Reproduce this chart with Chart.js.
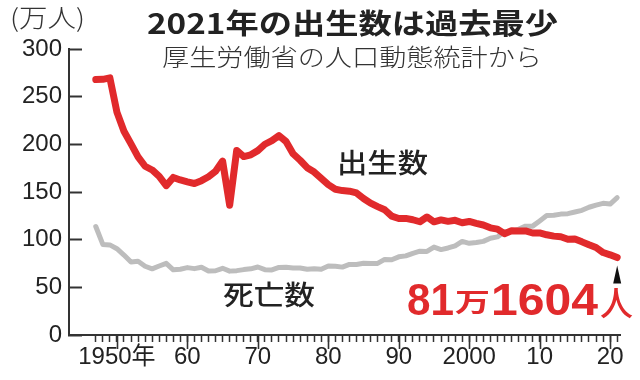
<!DOCTYPE html>
<html lang="ja">
<head>
<meta charset="utf-8">
<title>2021年の出生数は過去最少</title>
<script src="https://cdn.jsdelivr.net/npm/chart.js@4/dist/chart.umd.min.js"></script>
<style>
  html, body { margin: 0; padding: 0; background: #fff; }
  #chart { display: block; }
</style>
</head>
<body>
<canvas id="chart" width="640" height="380"></canvas>
<script>
// Years 1947-2021
const years = [
  1947, 1948, 1949, 1950, 1951, 1952, 1953, 1954, 1955, 1956,
  1957, 1958, 1959, 1960, 1961, 1962, 1963, 1964, 1965, 1966,
  1967, 1968, 1969, 1970, 1971, 1972, 1973, 1974, 1975, 1976,
  1977, 1978, 1979, 1980, 1981, 1982, 1983, 1984, 1985, 1986,
  1987, 1988, 1989, 1990, 1991, 1992, 1993, 1994, 1995, 1996,
  1997, 1998, 1999, 2000, 2001, 2002, 2003, 2004, 2005, 2006,
  2007, 2008, 2009, 2010, 2011, 2012, 2013, 2014, 2015, 2016,
  2017, 2018, 2019, 2020, 2021
];

// 出生数 (万人)
const births = [
  267.9, 268.2, 269.7, 233.8, 213.8, 200.5, 186.8, 177.0, 173.1, 166.5,
  156.7, 165.3, 162.6, 160.6, 158.9, 161.9, 166.0, 171.7, 182.4, 136.1,
  193.6, 187.2, 189.0, 193.4, 200.1, 203.9, 209.2, 203.0, 190.1, 183.3,
  175.5, 170.9, 164.3, 157.7, 152.9, 151.5, 150.9, 149.0, 143.2, 138.3,
  134.7, 131.4, 124.7, 122.2, 122.3, 120.9, 118.8, 123.8, 118.7, 120.7,
  119.2, 120.3, 117.8, 119.1, 117.1, 115.4, 112.4, 111.1, 106.3, 109.3,
  109.0, 109.1, 107.0, 107.1, 105.1, 103.7, 103.0, 100.4, 100.6, 97.7,
  94.6, 91.8, 86.5, 84.1, 81.2
];

// 死亡数 (万人)
const deaths = [
  113.8, 95.0, 94.5, 90.5, 83.9, 76.5, 77.3, 72.1, 69.4, 72.4,
  75.2, 68.4, 69.0, 70.7, 69.6, 71.0, 67.1, 67.4, 70.0, 67.0,
  67.5, 68.6, 69.4, 71.3, 68.5, 68.3, 70.9, 71.0, 70.2, 70.3,
  69.0, 69.6, 69.0, 72.3, 72.0, 71.2, 74.0, 74.0, 75.2, 75.1,
  75.1, 79.3, 78.9, 82.0, 83.0, 85.7, 87.9, 87.6, 92.2, 89.6,
  91.3, 93.6, 98.2, 96.2, 97.0, 98.2, 101.5, 102.9, 108.4, 108.4,
  110.8, 114.2, 114.2, 119.7, 125.3, 125.6, 126.8, 127.3, 129.0, 130.8,
  134.0, 136.2, 138.1, 137.3, 144.0
];

// Axis ticks
const yTicks = [0, 50, 100, 150, 200, 250, 300];
const labelYears = [1950, 1960, 1970, 1980, 1990, 2000, 2010, 2020];
const xTickLabels = ['1950年', '60', '70', '80', '90', '2000', '10', '20'];

const RED = '#e12a2c';
const GRAY = '#bdbdbd';
const INK = '#222';
const JP = '"Noto Sans CJK JP"';
const NUM = '"Liberation Sans", "Noto Sans CJK JP"';

// Draw text squeezed / stretched to a given width
const drawFit = (ctx, text, left, y, font, color, width, baseline) => {
    ctx.save();
    ctx.font = font;
    ctx.fillStyle = color;
    ctx.textAlign = 'left';
    ctx.textBaseline = baseline || 'middle';
    const w = ctx.measureText(text).width;
    ctx.translate(left, y);
    ctx.scale(width / w, 1);
    ctx.fillText(text, 0, 0);
    ctx.restore();
};

const decorations = {
    id: 'decorations',
    beforeDraw(chart) {
        const ctx = chart.ctx;
        ctx.save();
        ctx.fillStyle = '#fff';
        ctx.fillRect(0, 0, chart.width, chart.height);
        ctx.restore();
    },
    afterDraw(chart) {
        const ctx = chart.ctx;
        const xs = chart.scales.x;
        const ys = chart.scales.y;

        // longer ticks on decades
        ctx.save();
        ctx.strokeStyle = '#333';
        ctx.lineWidth = 1.6;
        labelYears.forEach(yr => {
            const px = Math.round(xs.getPixelForValue(yr)) + 0.5;
            ctx.beginPath();
            ctx.moveTo(px, xs.top);
            ctx.lineTo(px, xs.top + 14);
            ctx.stroke();
        });
        ctx.restore();

        // title, subtitle, unit
        const title = '2021年の出生数は過去最少';
        const sub = '厚生労働省の人口動態統計から';
        drawFit(ctx, title, 147, 23, `bold 28px ${JP}`, INK, 411);
        drawFit(ctx, sub, 162, 57, `300 24px ${JP}`, '#333', 380);
        drawFit(ctx, '(万人)', 10, 17, `300 25px ${JP}`, '#333', 75);

        // series labels
        drawFit(ctx, '出生数', 337, 163, `500 27px ${JP}`, INK, 91);
        drawFit(ctx, '死亡数', 223, 295, `500 27px ${JP}`, INK, 92);

        // latest value annotation
        const lastIdx = years.length - 1;
        const lx = xs.getPixelForValue(years[lastIdx]);
        const ly = ys.getPixelForValue(births[lastIdx]);
        ctx.save();
        ctx.fillStyle = '#111';
        ctx.beginPath();
        ctx.moveTo(lx, ly + 8);
        ctx.lineTo(lx + 4, ly + 26);
        ctx.lineTo(lx - 4, ly + 26);
        ctx.closePath();
        ctx.fill();
        ctx.restore();

        drawFit(ctx, '81', 407, 315, `bold 44px ${NUM}`, RED, 47, 'alphabetic');
        drawFit(ctx, '万', 455, 302, `bold 26px ${JP}`, RED, 35);
        drawFit(ctx, '1604', 491, 315, `bold 44px ${NUM}`, RED, 107, 'alphabetic');
        drawFit(ctx, '人', 600, 303, `500 34px ${JP}`, RED, 33);
    }
};

const toPoints = (vals) => years.map((yr, i) => ({ x: yr, y: vals[i] }));

new Chart(document.getElementById('chart'), {
    type: 'line',
    data: {
        datasets: [
            {
                label: '出生数',
                data: toPoints(births),
                borderColor: RED,
                borderWidth: 7,
                borderJoinStyle: 'round',
                borderCapStyle: 'round',
                pointRadius: 0,
                tension: 0,
                clip: false
            },
            {
                label: '死亡数',
                data: toPoints(deaths),
                borderColor: GRAY,
                borderWidth: 5,
                borderJoinStyle: 'round',
                borderCapStyle: 'round',
                pointRadius: 0,
                tension: 0,
                clip: false
            }
        ]
    },
    options: {
        responsive: false,
        animation: false,
        layout: { padding: { top: 49, right: 20, bottom: 0, left: 0 } },
        plugins: {
            legend: { display: false },
            tooltip: { enabled: false },
            title: { display: false }
        },
        scales: {
            x: {
                type: 'linear',
                min: 1943.2,
                max: 2021.4,
                afterBuildTicks: (scale) => {
                    scale.ticks = years.map(v => ({ value: v }));
                },
                afterFit: (scale) => { scale.height = 45; },
                border: { display: true, color: '#333', width: 2 },
                grid: {
                    drawOnChartArea: false,
                    tickLength: 7,
                    tickWidth: 1.5,
                    tickColor: '#333'
                },
                ticks: {
                    autoSkip: false,
                    maxRotation: 0,
                    padding: 1,
                    color: INK,
                    font: { family: NUM, size: 24 },
                    callback: (value) => {
                        const i = labelYears.indexOf(value);
                        return i >= 0 ? xTickLabels[i] : '';
                    }
                }
            },
            y: {
                min: 0,
                max: 300,
                afterBuildTicks: (scale) => {
                    scale.ticks = yTicks.map(v => ({ value: v }));
                },
                afterFit: (scale) => { scale.width = 69; },
                border: { display: true, color: '#333', width: 2 },
                grid: {
                    drawOnChartArea: false,
                    tickLength: -13,
                    tickWidth: 2,
                    tickColor: '#333'
                },
                ticks: {
                    padding: 20,
                    color: INK,
                    font: { family: NUM, size: 24 }
                }
            }
        }
    },
    plugins: [decorations]
});
</script>
</body>
</html>
